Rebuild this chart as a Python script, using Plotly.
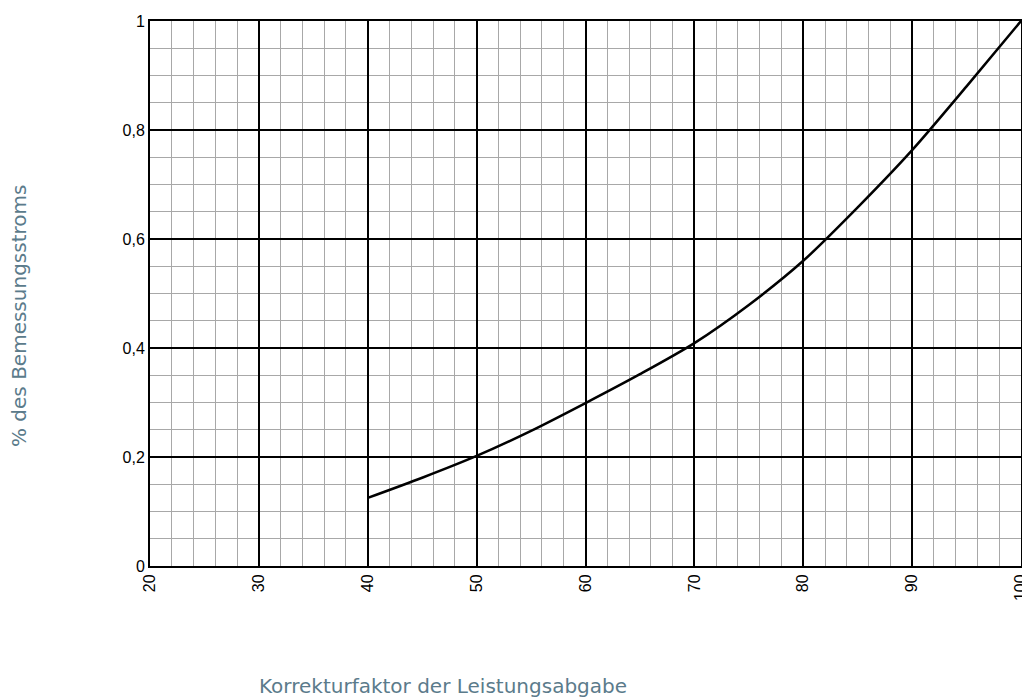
import plotly.graph_objects as go

x_vals = [40, 45, 50, 55, 60, 65, 70, 75, 80, 85, 90, 95, 100]
y_vals = [0.125, 0.162, 0.202, 0.248, 0.299, 0.352, 0.409, 0.479, 0.560, 0.658, 0.763, 0.880, 1.0]

x_ticks = [20, 30, 40, 50, 60, 70, 80, 90, 100]
y_ticks = [0, 0.2, 0.4, 0.6, 0.8, 1]
y_ticklabels = ["0", "0,2", "0,4", "0,6", "0,8", "1"]

x_title = "Korrekturfaktor der Leistungsabgabe"
y_title = "% des Bemessungsstroms"

fig = go.Figure()
fig.add_trace(go.Scatter(x=x_vals, y=y_vals, mode="lines",
                         line=dict(color="black", width=2.5, shape="spline", smoothing=0.8),
                         showlegend=False, hoverinfo="skip"))

title_color = "#5b7b8b"
tick_font = dict(family="Liberation Sans, Arial, sans-serif", size=16, color="black")
# page body has an 8px default margin, so the figure is sized 8px smaller
fig.update_layout(
    width=1022, height=692,
    margin=dict(l=142, r=9, t=13, b=134),
    paper_bgcolor="white", plot_bgcolor="white",
    font=tick_font,
    xaxis=dict(range=[20, 100], tickvals=x_ticks, ticktext=[str(v) for v in x_ticks],
               tickangle=-90, tickfont=tick_font, automargin=False,
               showgrid=True, gridcolor="black", gridwidth=1.5,
               minor=dict(dtick=2, showgrid=True, gridcolor="#a8a8a8", gridwidth=1),
               showline=True, linecolor="black", linewidth=2, mirror=True,
               zeroline=False, ticks="", ticklen=0),
    yaxis=dict(range=[0, 1], tickvals=y_ticks, ticktext=y_ticklabels,
               tickfont=tick_font, automargin=False,
               showgrid=True, gridcolor="black", gridwidth=1.5,
               minor=dict(dtick=0.05, showgrid=True, gridcolor="#a8a8a8", gridwidth=1),
               showline=True, linecolor="black", linewidth=2, mirror=True,
               zeroline=False, ticks="", ticklen=0),
    annotations=[
        dict(text=x_title, xref="paper", yref="paper", x=(443 - 150) / 871, y=-(686 - 566) / 545,
             showarrow=False, xanchor="center", yanchor="middle",
             font=dict(family="DejaVu Sans, sans-serif", size=20, color=title_color)),
        dict(text=y_title, xref="paper", yref="paper", x=-(150 - 19) / 871, y=(566 - 316) / 545,
             showarrow=False, xanchor="center", yanchor="middle", textangle=-90,
             font=dict(family="DejaVu Sans, sans-serif", size=20, color=title_color)),
    ],
)

fig.write_html("out.html")
